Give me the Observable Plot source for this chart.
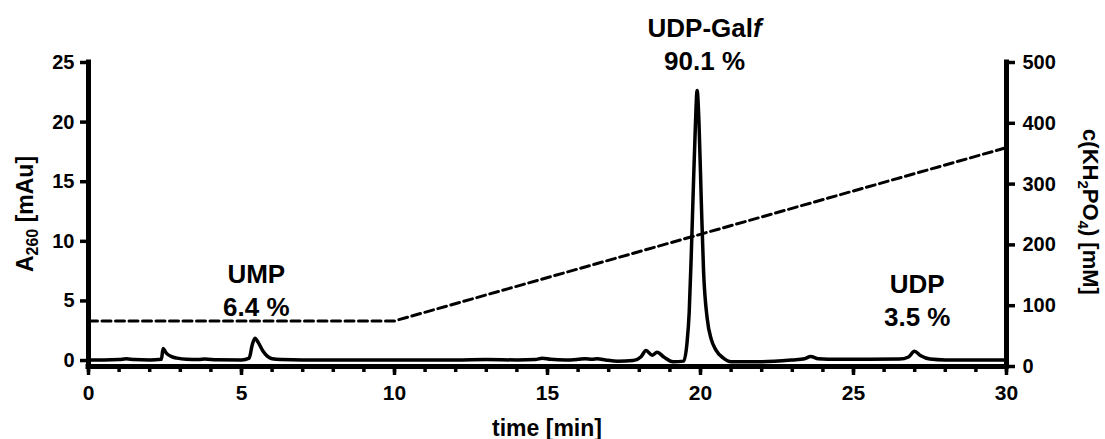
<!DOCTYPE html>
<html>
<head>
<meta charset="utf-8">
<script src="https://cdn.jsdelivr.net/npm/d3@7"></script>
<script src="https://cdn.jsdelivr.net/npm/@observablehq/plot@0.6"></script>
<style>
  html, body { margin: 0; padding: 0; background: #fff; }
  #chart svg { display: block; }
</style>
</head>
<body>
<div id="chart"></div>
<script>
// ---- Data ----
const times = [0, 0.5, 1.0, 1.23, 1.5, 2.0, 2.38, 2.44, 2.55, 2.7, 2.9, 3.2, 3.6, 3.8, 4.2, 5.0, 5.25, 5.35, 5.44, 5.55, 5.7, 5.85, 6.0, 6.3, 7.0, 8.0, 9.0, 10.0, 11.0, 12.0, 13.0, 14.0, 14.6, 14.83, 15.1, 15.6, 16.0, 16.24, 16.45, 16.63, 16.9, 17.3, 17.8, 18.05, 18.22, 18.42, 18.58, 18.8, 19.1, 19.45, 19.56, 19.63, 19.7, 19.76, 19.83, 19.89, 19.95, 20.03, 20.1, 20.22, 20.35, 20.5, 20.75, 21.0, 22.0, 23.0, 23.4, 23.6, 23.85, 24.5, 25.5, 26.5, 26.8, 26.99, 27.2, 27.5, 28.0, 29.0, 30.0];
const absorbance = [0.05, 0.05, 0.08, 0.15, 0.08, 0.05, 0.1, 1.0, 0.6, 0.35, 0.2, 0.1, 0.08, 0.12, 0.06, 0.05, 0.2, 1.3, 1.87, 1.5, 0.8, 0.35, 0.15, 0.08, 0.05, 0.05, 0.05, 0.05, 0.05, 0.05, 0.08, 0.05, 0.08, 0.2, 0.1, 0.05, 0.1, 0.15, 0.1, 0.15, 0.05, -0.05, 0.0, 0.3, 0.84, 0.45, 0.7, 0.3, -0.1, -0.05, 1.5, 4, 9, 14, 19.5, 22.65, 20, 13, 7.5, 3.5, 1.8, 0.9, 0.2, -0.1, -0.1, 0.05, 0.15, 0.34, 0.15, 0.1, 0.1, 0.12, 0.3, 0.78, 0.4, 0.12, 0.05, 0.05, 0.05];

const gradientTimes = [0, 10, 30];
const gradientConc = [75, 75, 360]; // mM KH2PO4

const xTicks = [0, 5, 10, 15, 20, 25, 30];
const xMinorTicks = [0,1,2,3,4,5,6,7,8,9,10,11,12,13,14,15,16,17,18,19,20,21,22,23,24,25,26,27,28,29,30];
const leftTicks = [0, 5, 10, 15, 20, 25];
const rightTicks = [0, 100, 200, 300, 400, 500];

const peakNames = ["UMP", "UDP-Gal", "UDP"];
const peakNameItalic = ["", "f", ""];
const peakShares = ["6.4 %", "90.1 %", "3.5 %"];
const peakLabelTimes = [5.5, 20.15, 27.1];
const peakLabelLevels = [6.5, 27.1, 5.6];

// ---- Scale helpers ----
const yMin = -0.5, yMax = 25, concMax = 500;
const toLeft = c => yMin + c * (yMax - yMin) / concMax;
const fromLeft = v => (v - yMin) * concMax / (yMax - yMin);

const chrom = times.map((t, i) => ({t, a: absorbance[i]}));
const grad = gradientTimes.map((t, i) => ({t, c: gradientConc[i]}));

const FONT = "'Liberation Sans', Arial, Helvetica, sans-serif";

const plot = Plot.plot({
  width: 1105,
  height: 439,
  marginLeft: 88,
  marginRight: 99,
  marginTop: 62,
  marginBottom: 73,
  style: {fontFamily: FONT, color: "black", background: "white", overflow: "visible"},
  x: {domain: [0, 30]},
  y: {domain: [yMin, yMax]},
  marks: [
    Plot.axisX({ticks: xMinorTicks, tickSize: 6, tickFormat: () => "", strokeWidth: 3.5, label: null}),
    Plot.axisX({ticks: xTicks, tickSize: 9, tickPadding: 10, fontSize: 21, fontWeight: "bold", strokeWidth: 3.5, label: null}),
    Plot.axisY({anchor: "left", ticks: leftTicks, tickSize: 8, tickPadding: 6, fontSize: 20, fontWeight: "bold", strokeWidth: 3.5, label: null}),
    Plot.axisY({anchor: "right", ticks: rightTicks.map(toLeft), tickFormat: d => String(Math.round(fromLeft(d))), tickSize: 8, tickPadding: 8, fontSize: 20, fontWeight: "bold", strokeWidth: 3.5, label: null}),
    Plot.ruleY([yMin], {strokeWidth: 5, strokeLinecap: "square"}),
    Plot.ruleX([0], {y1: yMin, y2: yMax, strokeWidth: 5, strokeLinecap: "square"}),
    Plot.ruleX([30], {y1: yMin, y2: yMax, strokeWidth: 5, strokeLinecap: "square"}),
    Plot.line(grad, {x: "t", y: d => toLeft(d.c), strokeWidth: 3, strokeDasharray: "9,4.5"}),
    Plot.line(chrom, {x: "t", y: "a", strokeWidth: 3.5, curve: "monotone-x"})
  ]
});

document.getElementById("chart").appendChild(plot);

const svg = d3.select(plot);
const sx = plot.scale("x"), sy = plot.scale("y");

peakNames.forEach((name, i) => {
  const x = sx.apply(peakLabelTimes[i]);
  const y = sy.apply(peakLabelLevels[i]);
  const t1 = svg.append("text")
    .attr("x", x).attr("y", y)
    .attr("text-anchor", "middle")
    .attr("font-family", FONT).attr("font-size", 26).attr("font-weight", "bold")
    .attr("fill", "black");
  t1.append("tspan").text(name);
  if (peakNameItalic[i]) t1.append("tspan").attr("font-style", "italic").text(peakNameItalic[i]);
  svg.append("text")
    .attr("x", x).attr("y", y + 33)
    .attr("text-anchor", "middle")
    .attr("font-family", FONT).attr("font-size", 26).attr("font-weight", "bold")
    .attr("fill", "black")
    .text(peakShares[i]);
});

const yMid = (sy.apply(yMin) + sy.apply(yMax)) / 2;

svg.append("text")
  .attr("x", sx.apply(15)).attr("y", 436)
  .attr("text-anchor", "middle")
  .attr("font-family", FONT).attr("font-size", 23).attr("font-weight", "bold")
  .attr("fill", "black")
  .text("time [min]");

const lt = svg.append("text")
  .attr("transform", `translate(33,${yMid}) rotate(-90)`)
  .attr("text-anchor", "middle")
  .attr("font-family", FONT).attr("font-size", 23).attr("font-weight", "bold")
  .attr("fill", "black");
lt.append("tspan").text("A");
lt.append("tspan").attr("font-size", 16).attr("dy", 5).text("260");
lt.append("tspan").attr("dy", -5).text(" [mAu]");

const rt = svg.append("text")
  .attr("transform", `translate(1083,${yMid - 2}) rotate(90)`)
  .attr("text-anchor", "middle")
  .attr("font-family", FONT).attr("font-size", 22).attr("font-weight", "bold")
  .attr("fill", "black");
rt.append("tspan").text("c(KH");
rt.append("tspan").attr("font-size", 15).attr("dy", 5).text("2");
rt.append("tspan").attr("dy", -5).text("PO");
rt.append("tspan").attr("font-size", 15).attr("dy", 5).text("4");
rt.append("tspan").attr("dy", -5).text(") [mM]");
</script>
</body>
</html>
